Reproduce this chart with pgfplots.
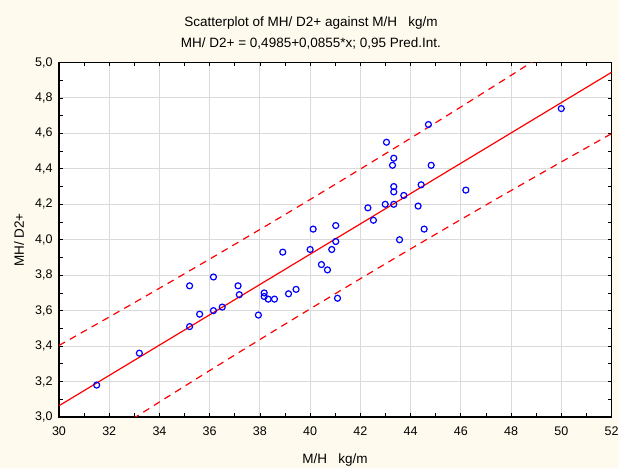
\documentclass[border=0pt]{standalone}
\usepackage{fontspec}
\setmainfont{Liberation Sans}
\usepackage{pgfplots}
\pgfplotsset{compat=1.18}
\definecolor{bgc}{RGB}{254,250,238}
\definecolor{gridc}{RGB}{218,218,218}
\begin{document}
\begin{tikzpicture}[x=1pt,y=1pt]
\fill[bgc, use as bounding box] (0,0) rectangle (619,468);
\begin{axis}[
  at={(59pt,51pt)}, anchor=south west,
  width=552.5pt, height=354.5pt, scale only axis,
  xmin=30, xmax=52, ymin=3, ymax=5,
  xtick={30,32,34,36,38,40,42,44,46,48,50,52},
  ytick={3,3.2,3.4,3.6,3.8,4,4.2,4.4,4.6,4.8,5},
  minor x tick num=1, minor y tick num=1,
  tick align=inside, major tick length=4pt, minor tick length=4pt,
  grid=major, major grid style={gridc, line width=1pt},
  axis line style={black, line width=1.3pt},
  tick style={black, line width=0.8pt},
  axis background/.style={fill=white},
  ticklabel style={font=\fontsize{12.5}{14}\selectfont},
  /pgf/number format/assume math mode=true,
  yticklabel style={xshift=-3pt, /pgf/number format/fixed, /pgf/number format/fixed zerofill, /pgf/number format/precision=1, /pgf/number format/use comma},
  xticklabel style={yshift=-6pt, /pgf/number format/use comma},
]
\addplot[red, line width=1.2pt] coordinates {(30,3.0635) (52,4.9445)};
\addplot[red, line width=1.2pt, dash pattern=on 7pt off 5.5pt, smooth] coordinates {
(30,3.4035) (32,3.5641) (34,3.7265) (36,3.8910) (38,4.0579) (40,4.2271) (42,4.3987) (44,4.5727) (46,4.7490) (48,4.9275) (50,5.1081) (52,5.2906)};
\addplot[red, line width=1.2pt, dash pattern=on 7pt off 5.5pt, smooth] coordinates {
(30,2.7235) (32,2.9049) (34,3.0845) (36,3.2620) (38,3.4371) (40,3.6099) (42,3.7803) (44,3.9483) (46,4.1140) (48,4.2775) (50,4.4389) (52,4.5984)};
\addplot[only marks, mark=o, mark size=3pt, blue, mark options={line width=1.2pt}] coordinates {
(31.5,3.18) (33.2,3.36) (35.2,3.51) (35.6,3.58) (35.2,3.74) (36.15,3.79) (36.15,3.60) (36.5,3.62)
(37.13,3.74) (37.18,3.69) (37.94,3.575) (38.17,3.70) (38.17,3.68) (38.33,3.665) (38.58,3.665)
(38.91,3.93) (39.14,3.695) (39.44,3.72) (40.12,4.06) (40.0,3.945) (40.45,3.86) (40.69,3.83)
(40.86,3.945) (41.02,4.08) (41.02,3.99) (41.09,3.67) (42.30,4.18) (42.52,4.11) (43.04,4.55)
(43.33,4.46) (43.28,4.42) (43.33,4.30) (43.33,4.27) (42.99,4.20) (43.33,4.20) (43.73,4.25)
(43.56,4.00) (44.30,4.19) (44.42,4.31) (44.54,4.06) (44.82,4.42) (44.71,4.65) (46.20,4.28) (50.0,4.74)};
\end{axis}
\node[font=\fontsize{13.5}{16}\selectfont, anchor=base] at (311,441.3) {Scatterplot of MH/ D2+ against M/H\ \ \ kg/m};
\node[font=\fontsize{13.5}{16}\selectfont, anchor=base] at (311,420) {MH/ D2+ = 0,4985+0,0855*x; 0,95 Pred.Int.};
\node[font=\fontsize{13.5}{16}\selectfont, anchor=base] at (335,4) {M/H\ \ \ kg/m};
\node[font=\fontsize{13.5}{16}\selectfont, rotate=90] at (19,228) {MH/ D2+};
\end{tikzpicture}
\end{document}
